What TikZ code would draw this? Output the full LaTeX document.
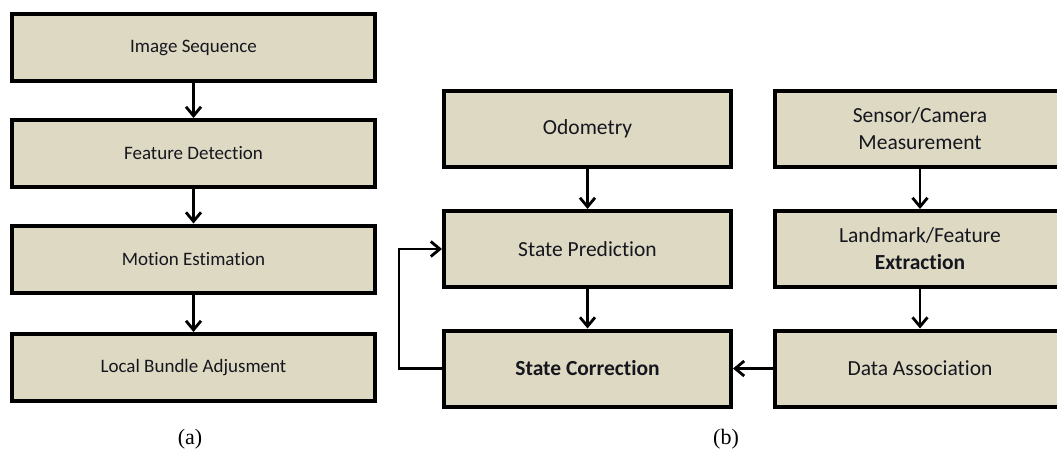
\documentclass[tikz,border=0pt]{standalone}
\usepackage{fontspec}
\setmainfont{Carlito}[Ligatures=NoCommon]
\newfontfamily\capfont{Liberation Serif}
\usetikzlibrary{arrows.meta}
\definecolor{boxfill}{HTML}{DDD9C3}
\definecolor{txt}{HTML}{16161E}
\begin{document}
\begin{tikzpicture}[x=1pt,y=-1pt,
 box/.style={draw=black, fill=boxfill, line width=4pt, inner sep=0pt, align=center, text=txt},
 lbox/.style={box, minimum width=363pt, minimum height=67pt, font=\fontsize{19}{23}\selectfont},
 rbox/.style={box, minimum width=287pt, minimum height=76pt, font=\fontsize{21.5}{27}\selectfont},
 wbox/.style={rbox, minimum width=290pt},
 arr/.style={line width=2.8pt, -{Straight Barb[length=9pt,width=15pt,line width=2.8pt]}},
 captext/.style={font=\capfont\fontsize{22}{24}\selectfont}]
\useasboundingbox (0,0) rectangle (1057,450);
\clip (0,0) rectangle (1057,450);

% (a)
\node[lbox] (is) at (193.5,47.5) {Image Sequence};
\node[lbox] (fd) at (193.5,153.5) {Feature Detection};
\node[lbox] (me) at (193.5,259) {Motion Estimation};
\node[lbox] (lb) at (193.5,367.5) {Local Bundle Adjusment};
\draw[arr] (is.south) -- (fd.north);
\draw[arr] (fd.south) -- (me.north);
\draw[arr] (me.south) -- (lb.north);
\node[captext] (capa) at (190,439) {(a)};

% (b)
\node[rbox] (od) at (587.5,129) {Odometry};
\node[rbox] (sp) at (587.5,249) {State Prediction};
\node[rbox] (sc) at (587.5,368.5) {\bfseries State Correction};
\node[wbox] (sm) at (920,129) {Sensor/Camera\\Measurement};
\node[wbox] (lf) at (920,249) {Landmark/Feature\\\bfseries Extraction};
\node[wbox] (da) at (920,368.5) {Data Association};
\draw[arr] (od.south) -- (sp.north);
\draw[arr] (sp.south) -- (sc.north);
\draw[arr] (sm.south) -- (lf.north);
\draw[arr] (lf.south) -- (da.north);
\draw[arr] (da.west) -- (sc.east);
\draw[arr] (sc.west) -- ++(-43,0) |- (sp.west);
\node[captext] (capb) at (726,439) {(b)};
\end{tikzpicture}
\end{document}
